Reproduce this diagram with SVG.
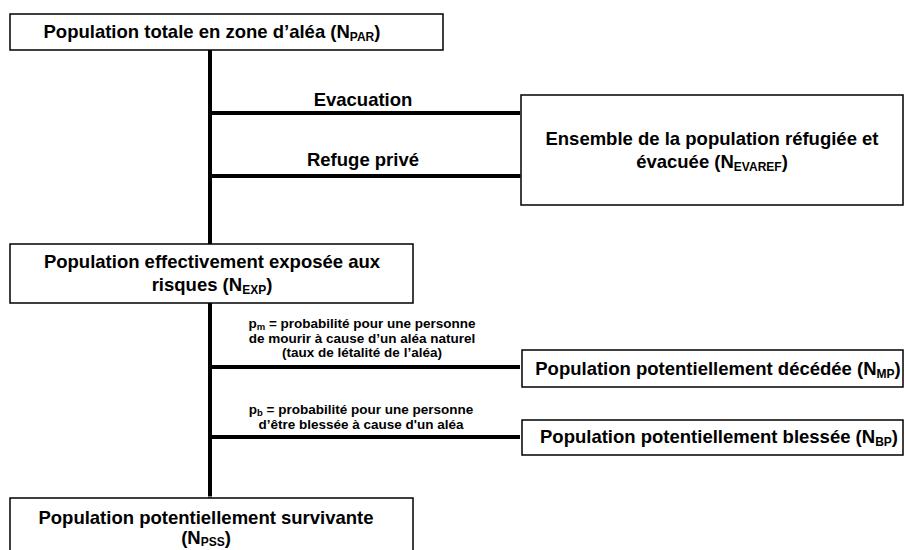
<svg xmlns="http://www.w3.org/2000/svg" width="905" height="550" viewBox="0 0 905 550">
<defs>
<style>
.box{fill:#fff;stroke:#000;stroke-width:1.5}
.t{font-family:"Liberation Sans",Arial,sans-serif;font-weight:bold;font-size:18.5px;fill:#000;text-anchor:middle}
.s{font-family:"Liberation Sans",Arial,sans-serif;font-weight:bold;font-size:13.5px;fill:#000;text-anchor:middle}
.ln{stroke:#000;stroke-width:4;fill:none}
.thin{stroke:#000;stroke-width:1;fill:none}
</style>
</defs>
<g id="connectors">
<line class="ln" x1="210" y1="50" x2="210" y2="244"/>
<line class="ln" x1="210" y1="303" x2="210" y2="496"/>
<line class="thin" x1="209" y1="494" x2="209" y2="506"/>
<line class="thin" x1="211" y1="494" x2="211" y2="506"/>
<path class="thin" d="M206,502 L210,508 L214,502"/>
<line class="ln" x1="208" y1="113" x2="520" y2="113"/>
<line class="ln" x1="208" y1="176" x2="520" y2="176"/>
<line class="thin" x1="518" y1="175" x2="547" y2="175"/>
<line class="thin" x1="518" y1="177" x2="547" y2="177"/>
<path class="thin" d="M543,172 L549,176 L543,180"/>
<line class="ln" x1="208" y1="367" x2="520" y2="367"/>
<line class="ln" x1="208" y1="437" x2="520" y2="437"/>
<text class="t" x="363" y="106">Evacuation</text>
<text class="t" x="363" y="166">Refuge privé</text>
<text class="s" x="362" y="328">p<tspan font-size="9.5" dy="2">m</tspan><tspan dy="-2"> = probabilité pour une personne</tspan></text>
<text class="s" x="362" y="342.5">de mourir à cause d’un aléa naturel</text>
<text class="s" x="362" y="357">(taux de létalité de l’aléa)</text>
<text class="s" x="361" y="414">p<tspan font-size="9.5" dy="2">b</tspan><tspan dy="-2"> = probabilité pour une personne</tspan></text>
<text class="s" x="361" y="428.5">d’être blessée à cause d'un aléa</text>
</g>
<g id="n-par">
<rect class="box" x="10" y="14" width="433" height="36"/>
<text class="t" x="212" y="38">Population totale en zone d’aléa (N<tspan font-size="12" dy="3">PAR</tspan><tspan dy="-3">)</tspan></text>
</g>
<g id="n-evaref">
<rect class="box" x="521" y="95" width="382" height="110"/>
<text class="t" x="712" y="145">Ensemble de la population réfugiée et</text>
<text class="t" x="712" y="168">évacuée (N<tspan font-size="12" dy="3">EVAREF</tspan><tspan dy="-3">)</tspan></text>
</g>
<g id="n-exp">
<rect class="box" x="10" y="244" width="403" height="59"/>
<text class="t" x="212" y="268">Population effectivement exposée aux</text>
<text class="t" x="212" y="291">risques (N<tspan font-size="12" dy="3">EXP</tspan><tspan dy="-3">)</tspan></text>
</g>
<g id="n-mp">
<rect class="box" x="522" y="350" width="381" height="37"/>
<text class="t" x="718" y="375">Population potentiellement décédée (N<tspan font-size="12" dy="3">MP</tspan><tspan dy="-3">)</tspan></text>
</g>
<g id="n-bp">
<rect class="box" x="522" y="420" width="381" height="35"/>
<text class="t" x="719" y="443">Population potentiellement blessée (N<tspan font-size="12" dy="3">BP</tspan><tspan dy="-3">)</tspan></text>
</g>
<g id="n-pss">
<rect class="box" x="10" y="498" width="403" height="60"/>
<text class="t" x="206" y="524">Population potentiellement survivante</text>
<text class="t" x="206" y="544">(N<tspan font-size="12" dy="2">PSS</tspan><tspan dy="-2">)</tspan></text>
</g>
</svg>
